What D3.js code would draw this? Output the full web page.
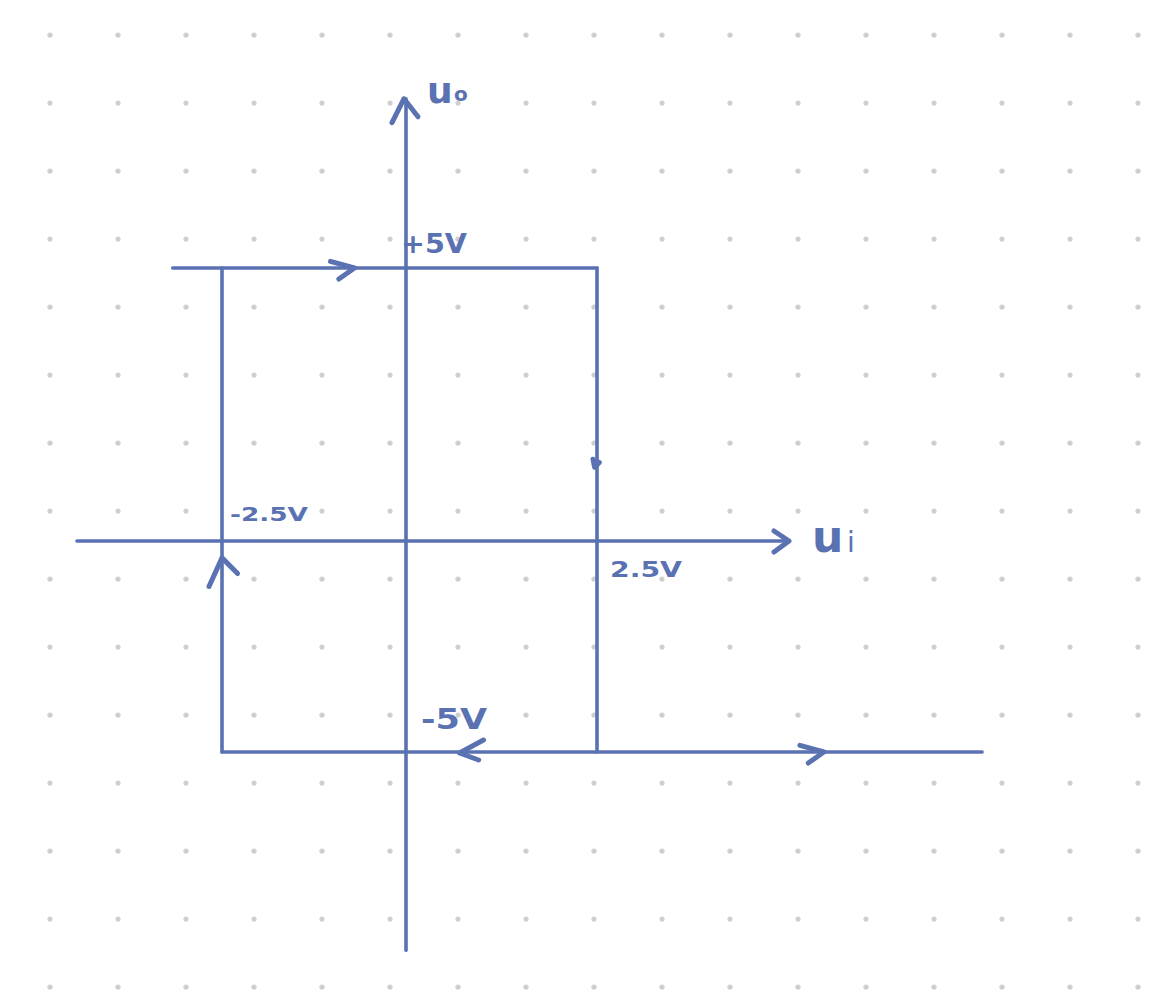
<!DOCTYPE html>
<html><head><meta charset="utf-8">
<script src="https://cdn.jsdelivr.net/npm/d3@7"></script>
<style>body{margin:0;background:#fff}svg{display:block}</style>
</head><body>
<script>
// ---- data (volts) ----
const uiKnots = [-2.5, 0, 2.5];          // input voltage knots
const uoKnots = [-5, 0, 5];              // output voltage knots
const xAxisExtent = [-4.47, 5.0];        // u_i axis drawn range
const yAxisExtent = [-9.7, 8.1];         // u_o axis drawn range
const thresholds = [-2.5, 2.5];          // switching thresholds
const levels = [-5, 5];                  // saturation levels
const topBranch = [[-3.17, 5], [2.5, 5]];
const rightDrop = [[2.5, 5], [2.5, -5]];
const bottomBranch = [[7.54, -5], [-2.5, -5]];
const leftRise = [[-2.5, -5], [-2.5, 5]];
const flowArrows = [
  {u: -0.7, v: 5, dir: "right"},
  {u: 2.5, v: 1.35, dir: "down"},
  {u: -2.5, v: -0.4, dir: "up"},
  {u: 0.7, v: -5, dir: "left"},
  {u: 5.47, v: -5, dir: "right"}
];
const tickLabels = ["+5V", "-2.5V", "2.5V", "-5V"];
const axisNames = ["u", "o", "u", "i"];

// ---- layout ----
const W = 1159, H = 1000, color = "#5a72b2";
const svg = d3.select("body").append("svg").attr("width", W).attr("height", H);
const x = d3.scaleLinear().domain(uiKnots).range([222, 406, 597]);
const y = d3.scaleLinear().domain(uoKnots).range([752, 541, 268]);

// dot grid
const gx = d3.range(50, W, 68), gy = d3.range(35, H, 68);
const dots = svg.append("g");
gy.forEach(yy => gx.forEach(xx => dots.append("circle").attr("cx", xx).attr("cy", yy).attr("r", 2.6).attr("fill", "#cfcfcf")));

const line = d3.line().x(d => x(d[0])).y(d => y(d[1]));
const g = svg.append("g").attr("fill", "none").attr("stroke", color)
  .attr("stroke-width", 3.6).attr("stroke-linecap", "round").attr("stroke-linejoin", "round");
const ga = svg.append("g").attr("fill", "none").attr("stroke", color)
  .attr("stroke-width", 5).attr("stroke-linecap", "round").attr("stroke-linejoin", "round");

// axes
g.append("path").attr("d", line([[xAxisExtent[0], 0], [xAxisExtent[1], 0]]));
g.append("path").attr("d", line([[0, yAxisExtent[0]], [0, yAxisExtent[1]]]));
// axis arrowheads
const xt = [x(xAxisExtent[1]), y(0)];
ga.append("path").attr("d", `M${xt[0]-14},${xt[1]-10}L${xt[0]+1},${xt[1]}L${xt[0]-14},${xt[1]+11}`);
const yt = [x(0), y(yAxisExtent[1])];
ga.append("path").attr("d", `M${yt[0]-14},${yt[1]+24}L${yt[0]-2},${yt[1]}L${yt[0]+12},${yt[1]+18}`);

// loop
[topBranch, rightDrop, bottomBranch, leftRise].forEach(s => g.append("path").attr("d", line(s)));

// flow arrows
const size = {right: [24, 11], left: [24, 10], up: [26, 13], down: [8, 4]};
flowArrows.forEach(a => {
  const px = x(a.u), py = y(a.v);
  const [L, Wd] = size[a.dir];
  let d;
  if (a.dir === "right") d = `M${px-L},${py-Wd*0.6}L${px},${py}L${px-L*0.65},${py+Wd}`;
  if (a.dir === "left") d = `M${px+L},${py-Wd*1.2}L${px},${py+1}L${px+L*0.8},${py+Wd*0.8}`;
  if (a.dir === "up") d = `M${px-Wd},${py+L*1.1}L${px},${py}L${px+Wd*1.2},${py+L*0.6}`;
  if (a.dir === "down") d = `M${px-Wd},${py-L}L${px-Wd*0.6},${py}L${px+Wd*0.6},${py-L*0.6}`;
  ga.append("path").attr("d", d);
});

// labels
const t = svg.append("g").attr("fill", color).attr("font-family", "'DejaVu Sans', sans-serif").attr("font-weight", "bold");
const lbl = (tx, px, py, fs, len) => {
  const e = t.append("text").attr("x", px).attr("y", py).attr("font-size", fs).text(tx);
  if (len) e.attr("textLength", len).attr("lengthAdjust", "spacingAndGlyphs");
  return e;
};
lbl(tickLabels[0], x(0) - 5, y(levels[1]) - 15, 27, 66);
lbl(tickLabels[1], x(thresholds[0]) + 8, y(0) - 20, 20, 78);
lbl(tickLabels[2], x(thresholds[1]) + 13, y(0) + 36, 22, 72);
lbl(tickLabels[3], x(0) + 15, y(levels[0]) - 23, 28, 66);
lbl(axisNames[0], x(0) + 21, y(yAxisExtent[1]) + 4, 36);
lbl(axisNames[1], x(0) + 48, y(yAxisExtent[1]) + 2, 20);
lbl(axisNames[2], xt[0] + 24, y(0) + 11, 44);
lbl(axisNames[3], xt[0] + 59, y(0) + 11, 28).attr("font-weight", "normal");
</script>
</body></html>
